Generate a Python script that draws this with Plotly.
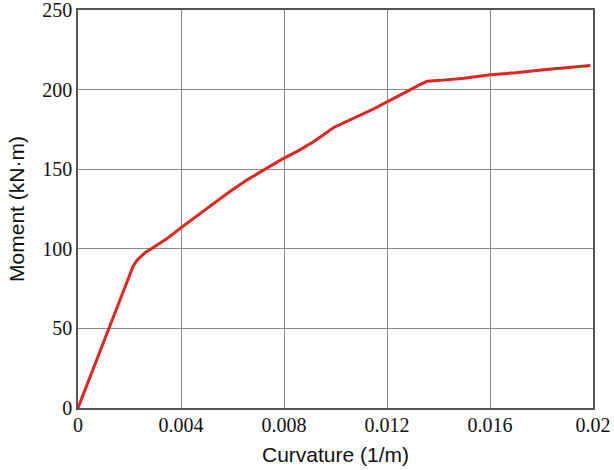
import plotly.graph_objects as go

curvature = [0, 0.00016, 0.0006, 0.0010, 0.0014, 0.0018, 0.00214, 0.0023, 0.0026,
             0.00294, 0.0035, 0.00398, 0.0046, 0.00527, 0.0059, 0.00657, 0.0073,
             0.00786, 0.0086, 0.00916, 0.00993, 0.0107, 0.0114, 0.0120, 0.0125,
             0.0129, 0.01325, 0.01356, 0.01408, 0.0150, 0.01602, 0.0170, 0.01809,
             0.0190, 0.0199]
moment = [0, 6.8, 25.1, 41.7, 58.3, 74.9, 89.0, 93.0, 97.5,
          101.0, 107.0, 113.0, 120.5, 128.6, 136.0, 143.3, 150.3,
          155.7, 162.0, 167.4, 176.2, 182.0, 187.2, 192.3, 196.3,
          199.8, 203.0, 205.2, 205.8, 207.2, 209.4, 210.6, 212.5,
          213.8, 215.2]

x_ticks = [0, 0.004, 0.008, 0.012, 0.016, 0.02]
x_tick_labels = ["0", "0.004", "0.008", "0.012", "0.016", "0.02"]
y_ticks = [0, 50, 100, 150, 200, 250]

fig = go.Figure()
fig.add_trace(go.Scatter(x=curvature, y=moment, mode="lines",
                         line=dict(color="#e5231f", width=3), showlegend=False))

axis_common = dict(showline=True, linecolor="#555555", linewidth=1.5, mirror=True,
                   showgrid=True, gridcolor="#8a8a8a", gridwidth=1, zeroline=False,
                   ticks="", automargin=False, ticklabeloverflow="allow",
                   tickfont=dict(family="Liberation Serif", size=20, color="#111111"))

fig.update_xaxes(range=[0, 0.02], tickvals=x_ticks, ticktext=x_tick_labels,
                 ticklabelstandoff=-2,
                 title=dict(text="Curvature (1/m)", standoff=13,
                            font=dict(family="Liberation Sans", size=21, color="#111111")),
                 **axis_common)
fig.update_yaxes(range=[0, 250], tickvals=y_ticks,
                 title=dict(text="Moment (kN·m)", standoff=12,
                            font=dict(family="Liberation Sans", size=21, color="#111111")),
                 **axis_common)

fig.update_layout(width=614, height=470, margin=dict(l=78, r=21, t=10, b=62),
                  plot_bgcolor="white", paper_bgcolor="white")

fig.write_html("out.html", config={"displayModeBar": False},
               post_script="document.body.style.margin='0';")
